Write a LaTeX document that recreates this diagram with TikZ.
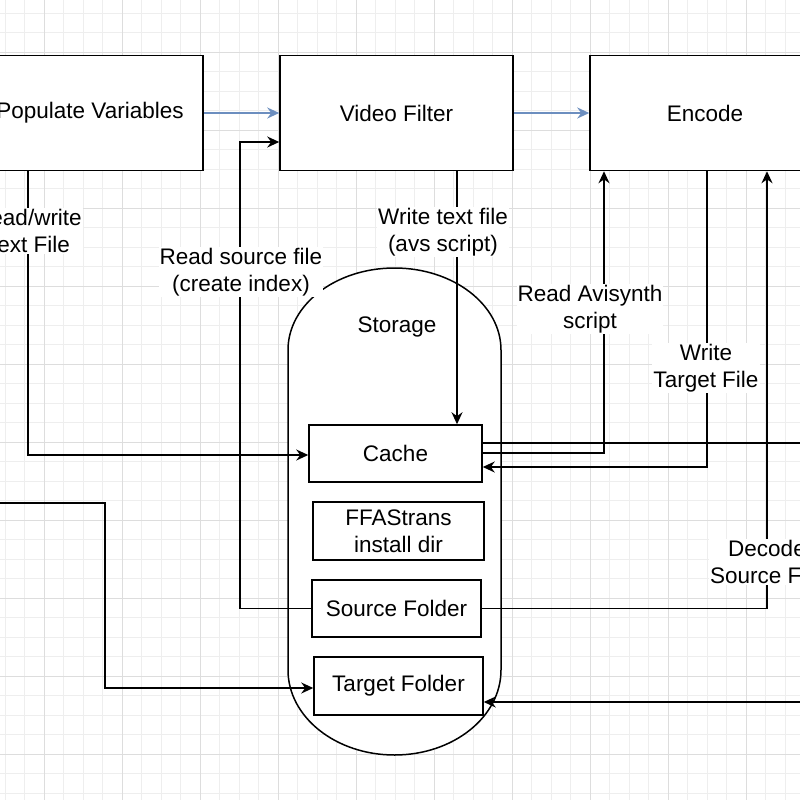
\documentclass[tikz,border=0pt]{standalone}
\usepackage{fontspec}
\setmainfont{Liberation Sans}
\usetikzlibrary{arrows.meta}
\definecolor{gmin}{HTML}{EEEEEE}
\definecolor{gmaj}{HTML}{DDDDDD}
\definecolor{blu}{HTML}{6C8EBF}
\begin{document}
\begin{tikzpicture}[x=1pt,y=-1pt,
  box/.style={draw,line width=1.5pt,fill=white,font=\fontsize{22.5}{27}\selectfont,align=center,inner sep=0pt},
  lbl/.style={fill=white,font=\fontsize{22.5}{27}\selectfont,align=center,inner sep=1pt},
  con/.style={line width=1.5pt,-{Stealth[length=12pt,width=11pt]}},
  blue/.style={line width=1.5pt,blu,-{Stealth[length=12pt,width=11pt]}}]
\useasboundingbox (0,0) rectangle (800,800);
\fill[white] (0,0) rectangle (800,800);
\foreach \i in {-3,...,40} {
  \draw[gmin,line width=0.7pt] ({44+19.5*\i},0) -- ({44+19.5*\i},800);
  \draw[gmin,line width=0.7pt] (0,{52+19.5*\i}) -- (800,{52+19.5*\i});}
\foreach \i in {-1,...,10} {
  \draw[gmaj,line width=0.9pt] ({44+78*\i},0) -- ({44+78*\i},800);
  \draw[gmaj,line width=0.9pt] (0,{52+78*\i}) -- (800,{52+78*\i});}
% boxes
\node[box,minimum width=226,minimum height=115] (pop) at (90,113) {Populate Variables};
\node[box,minimum width=233,minimum height=115] (vf) at (396.5,113) {Video Filter};
\node[box,minimum width=230,minimum height=115] (enc) at (705,113) {Encode};
% cylinder
\draw[line width=1.5pt,fill=white] (288,350) arc[start angle=180,end angle=360,x radius=106.5,y radius=82] -- (501,670) arc[start angle=0,end angle=180,x radius=106.5,y radius=85] -- cycle;
\node[lbl,fill=none] (st) at (397,327) {Storage};
\node[box,minimum width=173,minimum height=57] (cache) at (395.5,453.5) {Cache};
\node[box,minimum width=171,minimum height=58] (ffa) at (398.5,531) {FFAStrans\\install dir};
\node[box,minimum width=169,minimum height=57] (src) at (396.5,608.5) {Source Folder};
\node[box,minimum width=169,minimum height=58] (tgt) at (398.5,686) {Target Folder};
\coordinate (L1) at (0,503);
\coordinate (R1) at (800,443);
\coordinate (R2) at (800,702);
% connectors
\draw[blue] (pop.east) -- (vf.west);
\draw[blue] (vf.east) -- (enc.west);
\draw[con] (pop.south -| 28,0) -- (28,455) -- (cache.west |- 0,455);
\draw[con] (src.west) -- (240,608.5) -- (240,142) -- (vf.west |- 0,142);
\draw[con] (vf.south -| 457,0) -- (cache.north -| 457,0);
\draw[con] (cache.east |- 0,453) -- (604,453) -- (enc.south -| 604,0);
\draw[con] (enc.south -| 707,0) -- (707,467) -- (cache.east |- 0,467);
\draw[line width=1.5pt] (cache.east |- 0,443) -- (R1);
\draw[con] (src.east) -- (767,608.5) -- (enc.south -| 767,0);
\draw[con] (L1) -- (105,503) -- (105,688) -- (tgt.west |- 0,688);
\draw[con] (R2) -- (tgt.east |- 0,702);
% labels
\node[lbl] (l1) at (28,231) {Read/write\\Text File};
\node[lbl] (l2) at (241,272) {Read source file\\(create index)};
\node[lbl] (l3) at (443,232) {Write text file\\(avs script)};
\node[lbl] (l4) at (590,309) {Read Avisynth\\script};
\node[lbl] (l5) at (706,368) {Write\\Target File};
\node[lbl] (l6) at (767,562) {Decode\\Source File};
\end{tikzpicture}
\end{document}
